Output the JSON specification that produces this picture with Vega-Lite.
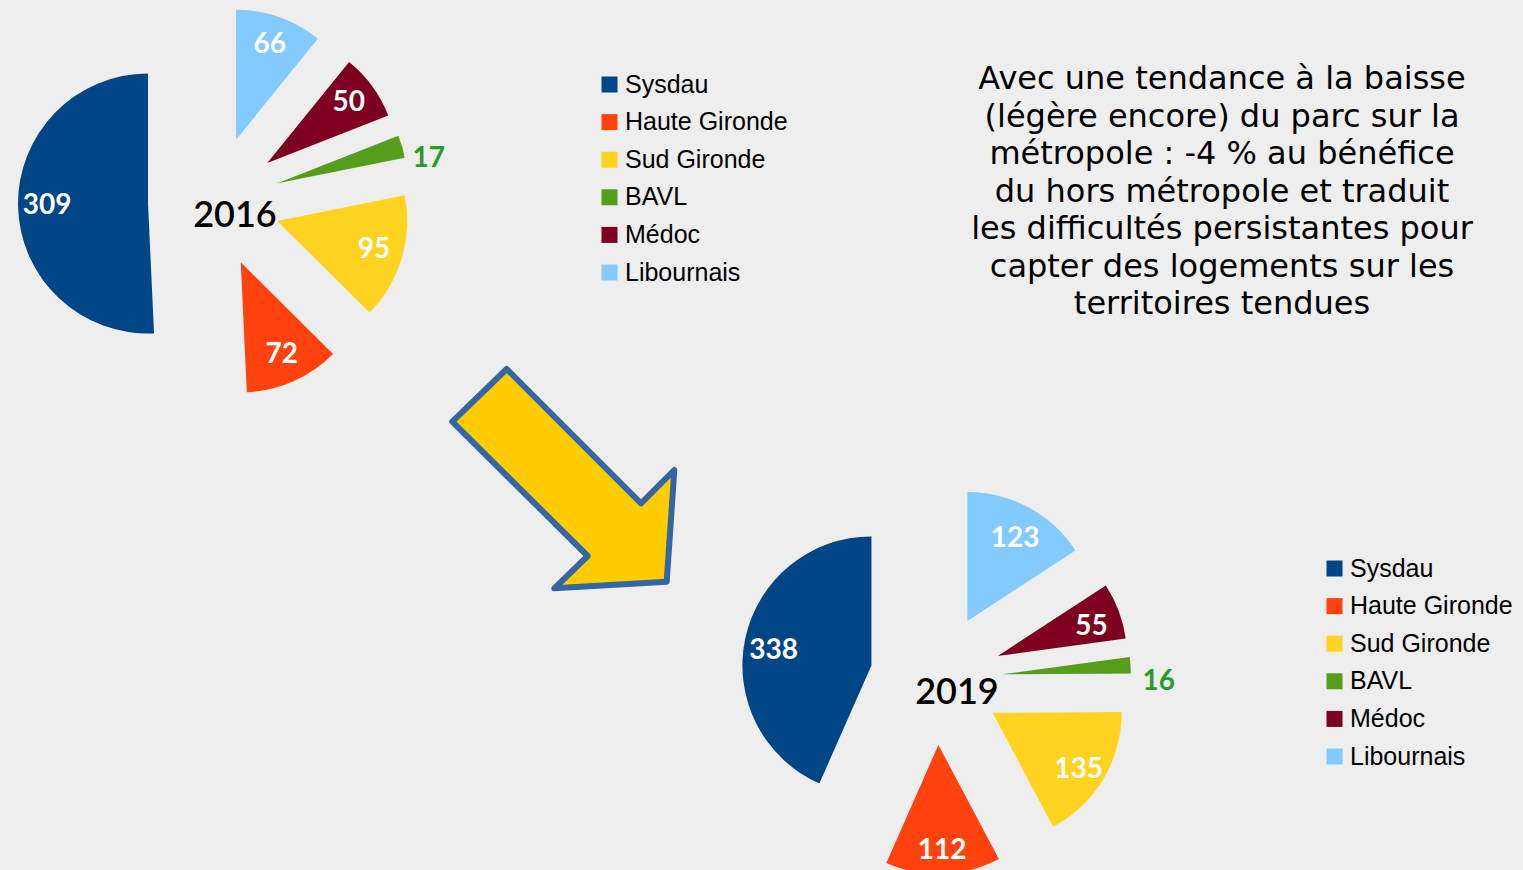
{
  "$schema": "https://vega.github.io/schema/vega-lite/v6.json",
  "width": 1523,
  "height": 870,
  "autosize": "none",
  "padding": 0,
  "background": "#EEEEEE",
  "config": {"view": {"stroke": null}},
  "title": {
    "text": ["Avec une tendance à la baisse", "(légère encore) du parc sur la", "métropole : -4 % au bénéfice", "du hors métropole et traduit", "les difficultés persistantes pour", "capter des logements sur les", "territoires tendues"],
    "orient": "top",
    "anchor": "end",
    "frame": "group",
    "align": "center",
    "baseline": "top",
    "dx": -301,
    "offset": -321,
    "font": "DejaVu Sans",
    "fontSize": 32,
    "fontWeight": "normal",
    "color": "#000000",
    "lineHeight": 37.5
  },
  "data": {
    "values": [
      {"year": 2016, "cat": "Sysdau", "v": 309},
      {"year": 2016, "cat": "Haute Gironde", "v": 72},
      {"year": 2016, "cat": "Sud Gironde", "v": 95},
      {"year": 2016, "cat": "BAVL", "v": 17},
      {"year": 2016, "cat": "Médoc", "v": 50},
      {"year": 2016, "cat": "Libournais", "v": 66},
      {"year": 2019, "cat": "Sysdau", "v": 338},
      {"year": 2019, "cat": "Haute Gironde", "v": 112},
      {"year": 2019, "cat": "Sud Gironde", "v": 135},
      {"year": 2019, "cat": "BAVL", "v": 16},
      {"year": 2019, "cat": "Médoc", "v": 55},
      {"year": 2019, "cat": "Libournais", "v": 123}
    ]
  },
  "transform": [
    {"window": [{"op": "row_number", "as": "rn"}]},
    {"stack": "v", "groupby": ["year"], "sort": [{"field": "rn", "order": "ascending"}], "offset": "normalize", "as": ["s0", "s1"]},
    {"calculate": "(datum.s0 + datum.s1) / 2", "as": "m"},
    {"calculate": "-sin(2 * PI * datum.m)", "as": "ex"},
    {"calculate": "-cos(2 * PI * datum.m)", "as": "ey"}
  ],
  "layer": [
    {
      "transform": [{"filter": "datum.year == 2016"}],
      "encoding": {
        "x": {"field": "year", "type": "ordinal", "scale": {"type": "point", "domain": [2016, 2019], "range": [214, 936], "padding": 0}, "axis": null},
        "y": {"field": "year", "type": "ordinal", "scale": {"type": "point", "domain": [2016, 2019], "range": [202, 679], "padding": 0}, "axis": null},
        "xOffset": {"field": "ex", "type": "quantitative", "scale": {"domain": [-1, 1], "range": [-66, 66]}},
        "yOffset": {"field": "ey", "type": "quantitative", "scale": {"domain": [-1, 1], "range": [-66, 66]}}
      },
      "layer": [
        {
          "mark": {"type": "arc", "radius": 130},
          "encoding": {
            "theta": {"field": "s0", "type": "quantitative", "stack": null, "scale": {"domain": [0, 1], "range": [6.283185307179586, 0]}},
            "theta2": {"field": "s1"},
            "color": {
              "field": "cat", "type": "nominal",
              "scale": {"domain": ["Sysdau", "Haute Gironde", "Sud Gironde", "BAVL", "Médoc", "Libournais"], "range": ["#004586", "#FF420E", "#FFD320", "#579D1C", "#7E0021", "#83CAFF"]},
              "legend": {"orient": "none", "legendX": 597, "legendY": 72, "title": null, "symbolType": "square", "symbolSize": 256, "symbolStrokeWidth": 0, "symbolOpacity": 1, "labelFont": "Liberation Sans", "labelFontSize": 25, "labelColor": "#000000", "labelOffset": 3, "labelLimit": 400, "rowPadding": 11.6, "padding": 0}
            }
          }
        },
        {
          "transform": [{"filter": "datum.s1 - datum.s0 >= 0.05"}],
          "mark": {"type": "text", "font": "Lato", "fontWeight": "bold", "fontSize": 28, "color": "#FFFFFF", "align": "center", "baseline": "middle"},
          "encoding": {
            "theta": {"field": "m", "type": "quantitative", "stack": null, "scale": {"domain": [0, 1], "range": [6.283185307179586, 0]}},
            "radius": {"value": 101},
            "text": {"field": "v", "type": "quantitative"}
          }
        },
        {
          "transform": [{"filter": "datum.s1 - datum.s0 < 0.05"}],
          "mark": {"type": "text", "font": "Lato", "fontWeight": "bold", "fontSize": 28, "color": "#2A9A2A", "align": "left", "baseline": "middle", "dy": 15},
          "encoding": {
            "theta": {"field": "m", "type": "quantitative", "stack": null, "scale": {"domain": [0, 1], "range": [6.283185307179586, 0]}},
            "radius": {"value": 141},
            "text": {"field": "v", "type": "quantitative"}
          }
        }
      ]
    },
    {
      "transform": [{"filter": "datum.year == 2019"}],
      "encoding": {
        "x": {"field": "year", "type": "ordinal", "scale": {"type": "point", "domain": [2016, 2019], "range": [214, 936], "padding": 0}, "axis": null},
        "y": {"field": "year", "type": "ordinal", "scale": {"type": "point", "domain": [2016, 2019], "range": [202, 679], "padding": 0}, "axis": null},
        "xOffset": {"field": "ex", "type": "quantitative", "scale": {"domain": [-1, 1], "range": [-66, 66]}},
        "yOffset": {"field": "ey", "type": "quantitative", "scale": {"domain": [-1, 1], "range": [-66, 66]}}
      },
      "layer": [
        {
          "mark": {"type": "arc", "radius": 129},
          "encoding": {
            "theta": {"field": "s0", "type": "quantitative", "stack": null, "scale": {"domain": [0, 1], "range": [6.283185307179586, 0]}},
            "theta2": {"field": "s1"},
            "color": {
              "field": "cat", "type": "nominal",
              "scale": {"domain": ["Sysdau", "Haute Gironde", "Sud Gironde", "BAVL", "Médoc", "Libournais"], "range": ["#004586", "#FF420E", "#FFD320", "#579D1C", "#7E0021", "#83CAFF"]},
              "legend": {"orient": "none", "legendX": 1322, "legendY": 556, "title": null, "symbolType": "square", "symbolSize": 256, "symbolStrokeWidth": 0, "symbolOpacity": 1, "labelFont": "Liberation Sans", "labelFontSize": 25, "labelColor": "#000000", "labelOffset": 3, "labelLimit": 400, "rowPadding": 11.6, "padding": 0}
            }
          }
        },
        {
          "transform": [{"filter": "datum.s1 - datum.s0 >= 0.05"}],
          "mark": {"type": "text", "font": "Lato", "fontWeight": "bold", "fontSize": 28, "color": "#FFFFFF", "align": "center", "baseline": "middle", "dy": 6},
          "encoding": {
            "theta": {"field": "m", "type": "quantitative", "stack": null, "scale": {"domain": [0, 1], "range": [6.283185307179586, 0]}},
            "radius": {"value": 100},
            "text": {"field": "v", "type": "quantitative"}
          }
        },
        {
          "transform": [{"filter": "datum.s1 - datum.s0 < 0.05"}],
          "mark": {"type": "text", "font": "Lato", "fontWeight": "bold", "fontSize": 28, "color": "#2A9A2A", "align": "left", "baseline": "middle", "dy": 18},
          "encoding": {
            "theta": {"field": "m", "type": "quantitative", "stack": null, "scale": {"domain": [0, 1], "range": [6.283185307179586, 0]}},
            "radius": {"value": 141},
            "text": {"field": "v", "type": "quantitative"}
          }
        }
      ]
    },
    {
      "transform": [{"aggregate": [{"op": "count", "as": "n"}], "groupby": ["year"]}],
      "mark": {"type": "text", "font": "Lato", "fontSize": 36, "fontWeight": 600, "color": "#000000", "dx": 21, "dy": 14, "align": "center", "baseline": "middle"},
      "encoding": {
        "x": {"field": "year", "type": "ordinal", "scale": {"type": "point", "domain": [2016, 2019], "range": [214, 936], "padding": 0}, "axis": null},
        "y": {"field": "year", "type": "ordinal", "scale": {"type": "point", "domain": [2016, 2019], "range": [202, 679], "padding": 0}, "axis": null},
        "text": {"field": "year", "type": "nominal"}
      }
    },
    {
      "transform": [{"aggregate": [{"op": "mean", "field": "year", "as": "ym"}]}],
      "mark": {"type": "point", "shape": "M-0.683,-0.715L0.66,0.628L0.993,0.295L0.917,1.412L-0.207,1.478L0.127,1.155L-1.227,-0.188Z", "size": 40000, "filled": true, "color": "#FFCC00", "stroke": "#3465A4", "strokeWidth": 6, "strokeJoin": "round", "opacity": 1},
      "encoding": {
        "x": {"field": "ym", "type": "quantitative", "scale": {"domain": [2016, 2019], "range": [214, 936], "nice": false, "zero": false}, "axis": null},
        "y": {"field": "ym", "type": "quantitative", "scale": {"domain": [2016, 2019], "range": [202, 679], "nice": false, "zero": false}, "axis": null}
      }
    }
  ],
  "resolve": {"scale": {"x": "independent", "y": "independent", "color": "independent"}}
}
